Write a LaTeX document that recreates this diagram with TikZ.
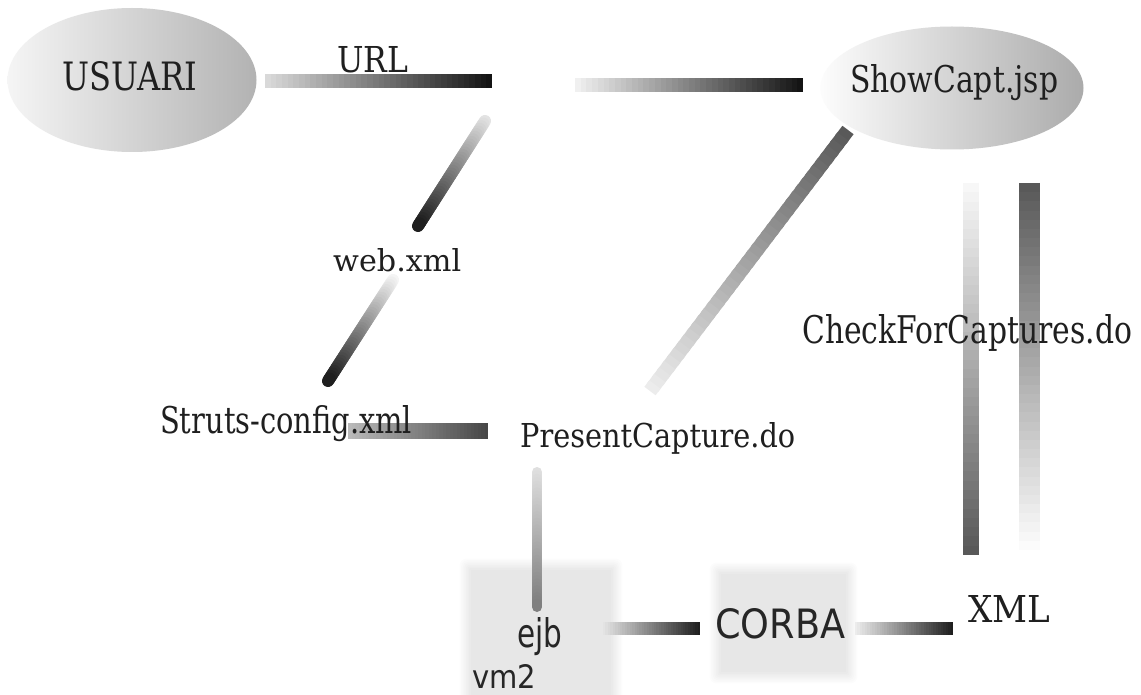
\documentclass[tikz,border=0pt]{standalone}
\usepackage{fontspec}
\setmainfont{DejaVu Serif}
\setsansfont{DejaVu Sans}
\usetikzlibrary{shapes.geometric,calc}
\newcommand\gradbar[6]{% from, to, start colour, end colour, width, cap
  \colorlet{gbA}{#3}\colorlet{gbB}{#4}%
  \foreach \i in {0,...,39}{%
    \pgfmathsetmacro\pc{100-\i*100/39}%
    \pgfmathsetmacro\ta{\i/40}%
    \pgfmathsetmacro\tb{min(1,(\i+1.5)/40)}%
    \draw[line width=#5, line cap=#6, color=gbA!\pc!gbB]
      ($(#1)!\ta!(#2)$) -- ($(#1)!\tb!(#2)$);
  }%
}
\tikzset{
  lbl/.style={inner sep=0pt, anchor=base west, text=black!88, font=\rmfamily},
  slbl/.style={inner sep=0pt, anchor=base west, text=black!85, font=\sffamily},
  oval/.style={ellipse, inner sep=0pt},
  hazebox/.style={inner sep=0pt, draw=none}
}
\begin{document}
\begin{tikzpicture}[x=1pt,y=-1pt]
\useasboundingbox (0,0) rectangle (1141,695);
\fill[white] (0,0) rectangle (1141,695);

% blurred background boxes
\node[hazebox, minimum width=140pt, minimum height=130pt] (boxE) at (541,635) {};
\node[hazebox, minimum width=125pt, minimum height=98pt] (boxC) at (783.5,623) {};
\foreach \k in {0,...,7}{
  \fill[gray, fill opacity=0.018, rounded corners=\k pt]
    ([shift={(-1.6*\k,1.6*\k)}]boxE.south west) rectangle
    ([shift={(1.6*\k,-1.6*\k)}]boxE.north east);
  \fill[gray, fill opacity=0.024, rounded corners=\k pt]
    ([shift={(-1.6*\k,1.6*\k)}]boxC.south west) rectangle
    ([shift={(1.6*\k,-1.6*\k)}]boxC.north east);
}

% ellipses
\node[oval, minimum width=249pt, minimum height=144pt,
      left color=gray!8, right color=gray!60] (usu) at (132,80) {};
\node[oval, minimum width=263pt, minimum height=123pt,
      left color=gray!2, right color=gray!66] (show) at (952,88) {};

% bar end points
\coordinate (b1s) at (265,81);  \coordinate (b1e) at (492,81);
\coordinate (b2s) at (575,85);  \coordinate (b2e) at (803,85);
\coordinate (b3s) at (485,121); \coordinate (b3e) at (418,226);
\coordinate (b4s) at (393,280); \coordinate (b4e) at (328,381);
\coordinate (b5s) at (348,431); \coordinate (b5e) at (488,431);
\coordinate (b6s) at (848,130); \coordinate (b6e) at (650,391);
\coordinate (b7s) at (971,183); \coordinate (b7e) at (971,555);
\coordinate (b8s) at (1029,183); \coordinate (b8e) at (1029,550);
\coordinate (b9s) at (537,472); \coordinate (b9e) at (537,607);
\coordinate (b10s) at (603,628); \coordinate (b10e) at (700,628);
\coordinate (b11s) at (855,628); \coordinate (b11e) at (953,628);

\gradbar{b1s}{b1e}{gray!30}{black!92}{14pt}{butt}
\gradbar{b2s}{b2e}{gray!12}{black!92}{14pt}{butt}
\gradbar{b3s}{b3e}{gray!22}{black!88}{12pt}{round}
\gradbar{b4s}{b4e}{gray!8}{black!88}{12pt}{round}
\gradbar{b5s}{b5e}{gray!55}{black!72}{16pt}{butt}
\gradbar{b6s}{b6e}{black!65}{gray!15}{14pt}{butt}
\gradbar{b7s}{b7e}{gray!6}{black!65}{16pt}{butt}
\gradbar{b8s}{b8e}{black!65}{gray!3}{21pt}{butt}
\gradbar{b9s}{b9e}{gray!25}{black!50}{10pt}{round}
\gradbar{b10s}{b10e}{gray!22}{black!88}{13pt}{butt}
\gradbar{b11s}{b11e}{gray!15}{black!88}{13pt}{butt}

% labels
\node[lbl] (usut) at (62,91) {\resizebox{135pt}{29pt}{USUARI}};
\node[lbl] (showt) at (850,93) {\resizebox{208pt}{28pt}{ShowCapt.jsp}};
\node[lbl] (url) at (337,73) {\resizebox{71pt}{26pt}{URL}};
\node[lbl] (web) at (333,272) {\resizebox{128pt}{23pt}{web.xml}};
\node[lbl] (struts) at (160,433) {\resizebox{252pt}{28pt}{Struts-config.xml}};
\node[lbl] (pc) at (520,447) {\resizebox{275pt}{25pt}{PresentCapture.do}};
\node[lbl] (cfc) at (802,343) {\resizebox{330pt}{29pt}{CheckForCaptures.do}};
\node[lbl] (xml) at (968,622) {\resizebox{82pt}{27pt}{XML}};
\node[slbl] (ejb) at (517,647) {\resizebox{45pt}{30pt}{ejb}};
\node[slbl] (vm) at (472,688) {\resizebox{64pt}{24pt}{vm2}};
\node[slbl] (corba) at (715,638) {\resizebox{130pt}{30pt}{CORBA}};
\end{tikzpicture}
\end{document}
